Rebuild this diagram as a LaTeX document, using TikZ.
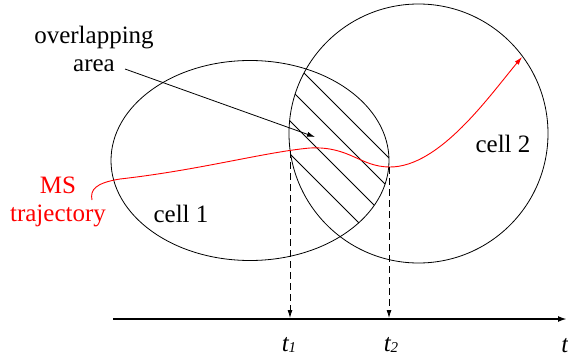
\documentclass[tikz,border=0pt]{standalone}
\usepackage{fontspec}
\setmainfont{Liberation Serif}
\usetikzlibrary{arrows.meta}
\begin{document}
\begin{tikzpicture}[x=1pt,y=-1pt, line width=0.8pt,
  lbl/.style={font=\fontsize{25}{28}\selectfont, inner sep=0pt, align=center},
  tip/.style={-{Latex[length=8pt,width=5pt]}},
  drop/.style={dash pattern=on 7pt off 4pt, tip},
  hatch/.style={line width=0.8pt},
  traj/.style={red, line width=0.9pt, tip}]
\useasboundingbox (0,0) rectangle (568,356);
\coordinate (c1c) at (250,160.5);
\coordinate (c2c) at (418.5,133.5);
\draw (c1c) ellipse [x radius=139, y radius=100];
\draw (c2c) circle [radius=129.5];
\begin{scope}
  \clip (c1c) ellipse [x radius=139, y radius=100];
  \clip (c2c) circle [radius=129.5];
  \foreach \c in {-231,-201,-169,-136} \draw[hatch] (250,250+\c) -- (450,450+\c);
\end{scope}
% trajectory
\coordinate (s0) at (92,200);
\coordinate (s1) at (120,179);
\coordinate (s2) at (310,148);
\coordinate (s3) at (390,167);
\coordinate (s4) at (522,57);
\draw[traj] (s0) .. controls (90,190) and (95,183) .. (s1)
  .. controls (200,170) and (265,152) .. (s2)
  .. controls (350,146) and (360,167) .. (s3)
  .. controls (440,167) and (490,95) .. (s4);
% axis
\coordinate (ax0) at (113,319);
\coordinate (ax1) at (567,319);
\draw[line width=2pt, -{Latex[length=9pt,width=6pt]}] (ax0) -- (ax1);
\coordinate (d1a) at (290,151);
\coordinate (d1b) at (290,318);
\coordinate (d2a) at (389,167);
\coordinate (d2b) at (389,318);
\draw[drop] (d1a) -- (d1b);
\draw[drop] (d2a) -- (d2b);
% labels
\node[lbl] (ov) at (94,49) {overlapping\\area};
\coordinate (ovend) at (125,69);
\coordinate (ovtip) at (315,137);
\draw[tip] (ovend) -- (ovtip);
\node[lbl, red] (ms) at (58,201.5) {MS\\trajectory};
\node[lbl, anchor=base] (cell1) at (181,222.5) {cell 1};
\node[lbl, anchor=base] (cell2) at (503,152) {cell 2};
\node[lbl, anchor=base] (t1) at (289,351) {\itshape t{\fontsize{15}{15}\selectfont\raisebox{-1pt}{1}}};
\node[lbl, anchor=base] (t2) at (391,351) {\itshape t{\fontsize{15}{15}\selectfont\raisebox{-1pt}{2}}};
\node[lbl, anchor=base west] (tt) at (561,352) {\itshape t};
\end{tikzpicture}
\end{document}
